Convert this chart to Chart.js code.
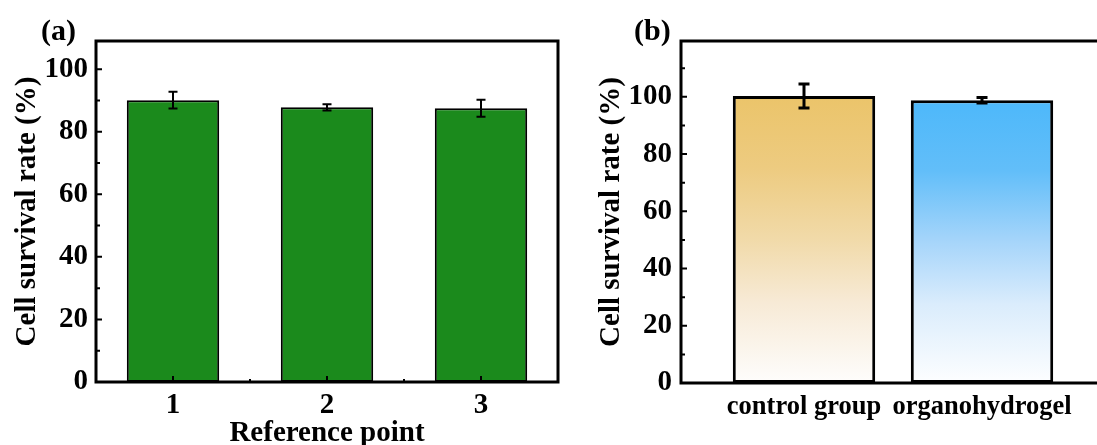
<!DOCTYPE html>
<html>
<head>
<meta charset="utf-8">
<script src="https://cdn.jsdelivr.net/npm/chart.js@4.4.1/dist/chart.umd.min.js"></script>
<style>
  html, body { margin: 0; padding: 0; background: #fff; overflow: hidden; width: 1097px; height: 445px; }
  .panel { position: absolute; top: 0; }
  #wrapA { left: 0; width: 570px; height: 445px; }
  #wrapB { left: 570px; width: 527px; height: 445px; }
  .tag { position: absolute; font: bold 30px "Liberation Serif", "Times New Roman", serif; line-height: 30px; color: #000; }
</style>
</head>
<body>
<div id="wrapA" class="panel"><canvas id="chartA" width="570" height="445"></canvas></div>
<div id="wrapB" class="panel"><canvas id="chartB" width="527" height="445"></canvas></div>
<div class="tag" style="left:41px; top:15px;">(a)</div>
<div class="tag" style="left:634px; top:15px;">(b)</div>
<script>
// (a) survival at the three reference points
const pointsA = ['1', '2', '3'];
const survivalA = [90.1, 87.8, 87.5];
const errorA = [2.7, 1.0, 2.7];
const yTicksA = [0, 20, 40, 60, 80, 100];

// (b) control group versus organohydrogel
const groupsB = ['control group', 'organohydrogel'];
const groupPosB = [1, 2];
const survivalB = [100.3, 98.8];
const errorB = [4.2, 1.0];
const yTicksB = [0, 20, 40, 60, 80, 100];

const SERIF = '"Liberation Serif", "Times New Roman", serif';
const GREEN = '#1b8a1c';
const GOLD_STOPS = [[0, '#ebc46a'], [0.25, '#edcb80'], [0.5, '#f1daa9'], [0.72, '#f7ead6'], [1, '#fefdfc']];
const BLUE_STOPS = [[0, '#4db8fa'], [0.25, '#62bef9'], [0.5, '#a6d5fa'], [0.72, '#daecfc'], [1, '#fdfeff']];

// Fill a bar with a gradient running from its top down to the zero line
function barGradient(stopSets) {
  return (ctx) => {
    const chart = ctx.chart;
    const stops = stopSets[ctx.dataIndex % stopSets.length];
    if (!chart.chartArea || !ctx.parsed) return stops[0][1];
    const y = chart.scales.y;
    const g = chart.ctx.createLinearGradient(0, y.getPixelForValue(ctx.parsed.y), 0, y.getPixelForValue(0));
    stops.forEach(([o, c]) => g.addColorStop(o, c));
    return g;
  };
}

// Box frame plus inward major/minor ticks
const framePlugin = {
  id: 'frame',
  afterDraw(chart, args, opts) {
    const { ctx, chartArea: a, scales } = chart;
    ctx.save();
    ctx.strokeStyle = '#000';
    const ys = scales.y;
    ctx.lineWidth = 2;
    ctx.beginPath();
    (opts.yMajor || []).forEach(v => {
      const p = ys.getPixelForValue(v);
      ctx.moveTo(a.left, p); ctx.lineTo(a.left + 6, p);
    });
    (opts.yMinor || []).forEach(v => {
      const p = ys.getPixelForValue(v);
      ctx.moveTo(a.left, p); ctx.lineTo(a.left + 4, p);
    });
    const xs = scales.x;
    (opts.xMajor || []).forEach(v => {
      const p = xs.getPixelForValue(v);
      ctx.moveTo(p, a.bottom); ctx.lineTo(p, a.bottom - 6);
    });
    (opts.xMinor || []).forEach(v => {
      const p = xs.getPixelForValue(v);
      ctx.moveTo(p, a.bottom); ctx.lineTo(p, a.bottom - 3);
    });
    ctx.stroke();
    ctx.lineWidth = opts.width || 3;
    ctx.lineJoin = 'miter';
    ctx.lineCap = 'square';
    ctx.beginPath();
    if (opts.openRight) {
      ctx.moveTo(a.right + 2, a.top);
      ctx.lineTo(a.left, a.top);
      ctx.lineTo(a.left, a.bottom);
      ctx.lineTo(a.right + 2, a.bottom);
    } else {
      ctx.rect(a.left, a.top, a.right - a.left, a.bottom - a.top);
    }
    ctx.stroke();
    ctx.restore();
  }
};

// Error bars from the value and error arrays
const errorBarPlugin = {
  id: 'errorBars',
  afterDatasetsDraw(chart, args, opts) {
    const { ctx, scales } = chart;
    const meta = chart.getDatasetMeta(0);
    ctx.save();
    ctx.strokeStyle = '#000';
    ctx.lineWidth = opts.lineWidth;
    ctx.lineCap = 'butt';
    ctx.beginPath();
    opts.values.forEach((v, i) => {
      const x = meta.data[i].x;
      const hi = scales.y.getPixelForValue(v + opts.errors[i]);
      const lo = scales.y.getPixelForValue(v - opts.errors[i]);
      const w = opts.capWidth / 2;
      ctx.moveTo(x, hi); ctx.lineTo(x, lo);
      ctx.moveTo(x - w, hi); ctx.lineTo(x + w, hi);
      ctx.moveTo(x - w, lo); ctx.lineTo(x + w, lo);
    });
    ctx.stroke();
    ctx.restore();
  }
};

const tickFont = { family: SERIF, size: 29, weight: 'bold' };
const titleFont = { family: SERIF, size: 29, weight: 'bold', lineHeight: 1 };
const xTitleFont = { family: SERIF, size: 29, weight: 'bold', lineHeight: 0.8 };

// ---------- panel (a) ----------
new Chart(document.getElementById('chartA'), {
  type: 'bar',
  data: {
    labels: pointsA,
    datasets: [{
      data: survivalA,
      backgroundColor: GREEN,
      borderColor: '#000',
      borderWidth: 2,
      borderSkipped: false,
      barPercentage: 0.6,
      categoryPercentage: 1.0
    }]
  },
  options: {
    responsive: false,
    animation: false,
    events: [],
    layout: { padding: { left: 13, top: 41, right: 12, bottom: 0 } },
    plugins: {
      legend: { display: false },
      tooltip: { enabled: false },
      frame: { yMajor: yTicksA, yMinor: [10, 30, 50, 70, 90], xMajor: [0, 1, 2], xMinor: [0.5, 1.5], width: 3 },
      errorBars: { values: survivalA, errors: errorA, lineWidth: 2, capWidth: 9 }
    },
    scales: {
      x: {
        type: 'category',
        offset: true,
        grid: { display: false, drawTicks: false },
        border: { display: false },
        ticks: { color: '#000', font: tickFont, padding: 6, maxRotation: 0 },
        title: { display: true, text: 'Reference point', color: '#000', font: xTitleFont, padding: 0 },
        afterFit: (s) => { s.height = 63; }
      },
      y: {
        min: 0,
        max: 109,
        grid: { display: false, drawTicks: false },
        border: { display: false },
        afterBuildTicks: (s) => { s.ticks = yTicksA.map(v => ({ value: v })); },
        ticks: { color: '#000', font: tickFont, padding: 8 },
        title: { display: true, text: 'Cell survival rate (%)', color: '#000', font: titleFont, padding: 0 },
        afterFit: (s) => { s.width = 83; }
      }
    }
  },
  plugins: [framePlugin, errorBarPlugin]
});

// ---------- panel (b) ----------
new Chart(document.getElementById('chartB'), {
  type: 'bar',
  data: {
    datasets: [{
      data: groupPosB.map((x, i) => ({ x, y: survivalB[i] })),
      backgroundColor: barGradient([GOLD_STOPS, BLUE_STOPS]),
      borderColor: '#000',
      borderWidth: 3,
      borderSkipped: false,
      barPercentage: 0.8,
      categoryPercentage: 1.0
    }]
  },
  options: {
    responsive: false,
    animation: false,
    events: [],
    layout: { padding: { left: 27, top: 41, right: 0, bottom: 0 } },
    plugins: {
      legend: { display: false },
      tooltip: { enabled: false },
      frame: { yMajor: yTicksB, yMinor: [10, 30, 50, 70, 90, 110], width: 3, openRight: true },
      errorBars: { values: survivalB, errors: errorB, lineWidth: 3, capWidth: 11 }
    },
    scales: {
      x: {
        type: 'linear',
        min: 0.309,
        max: 2.646,
        offset: false,
        grid: { display: false, drawTicks: false },
        border: { display: false },
        afterBuildTicks: (s) => { s.ticks = groupPosB.map(v => ({ value: v })); },
        ticks: {
          color: '#000',
          font: { family: SERIF, size: 26.5, weight: 'bold' },
          padding: 8,
          maxRotation: 0,
          callback: (v) => groupsB[groupPosB.indexOf(v)]
        },
        afterFit: (s) => { s.height = 62; }
      },
      y: {
        min: 0,
        max: 119.5,
        grid: { display: false, drawTicks: false },
        border: { display: false },
        afterBuildTicks: (s) => { s.ticks = yTicksB.map(v => ({ value: v })); },
        ticks: { color: '#000', font: tickFont, padding: 9 },
        title: { display: true, text: 'Cell survival rate (%)', color: '#000', font: titleFont, padding: 0 },
        afterFit: (s) => { s.width = 84; }
      }
    }
  },
  plugins: [framePlugin, errorBarPlugin]
});
</script>
</body>
</html>
